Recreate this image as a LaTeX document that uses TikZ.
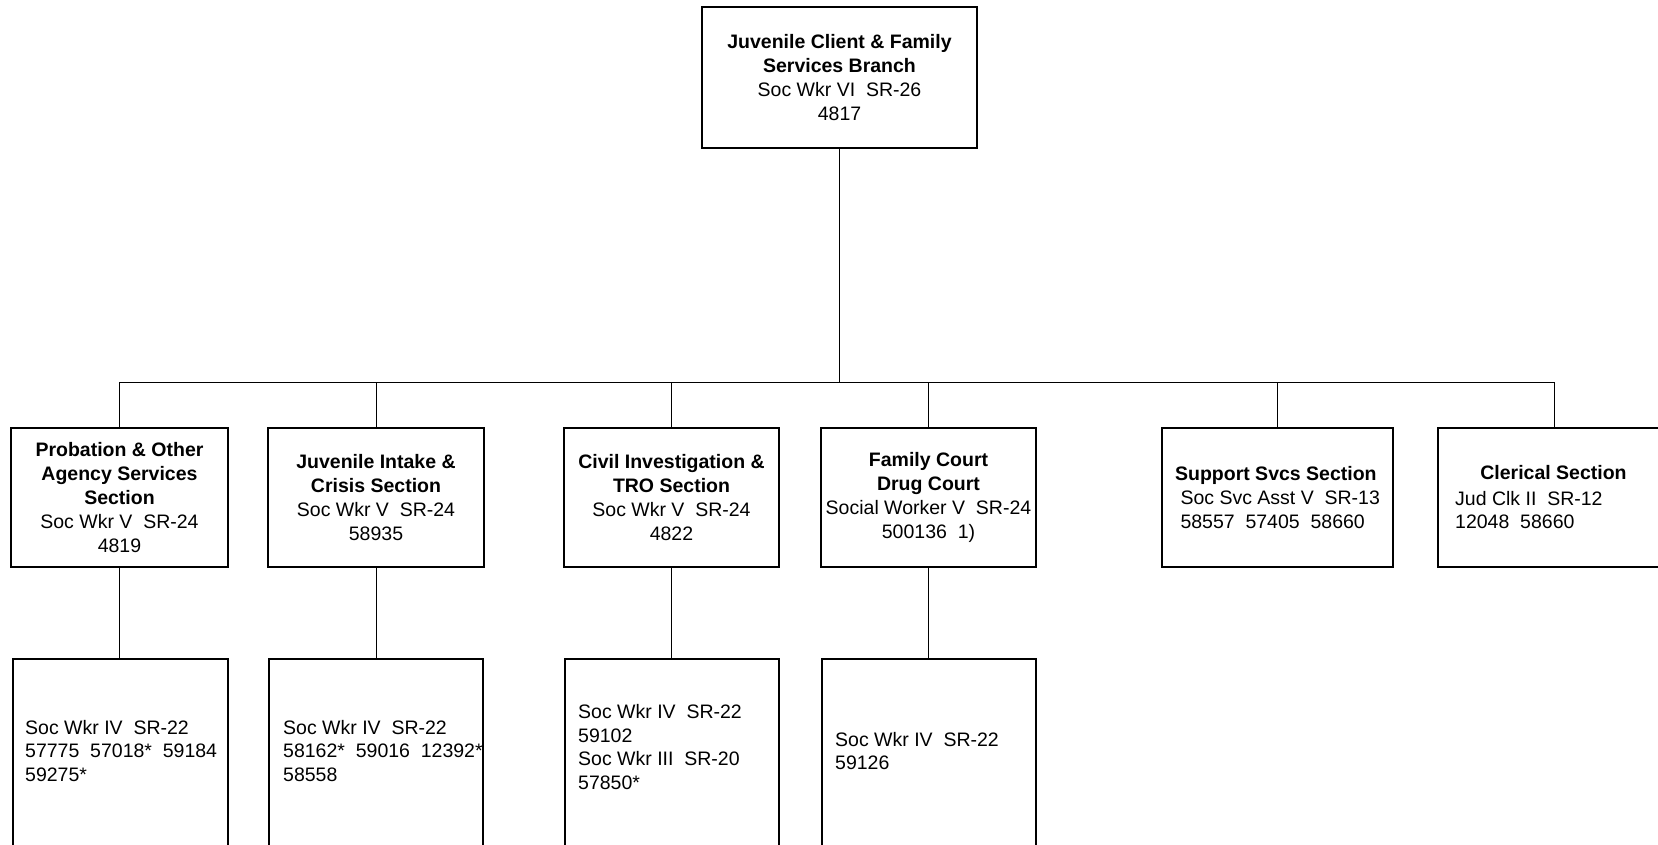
\documentclass[tikz,border=0pt]{standalone}
\usepackage{fontspec}
\setmainfont{Liberation Sans}
\usepackage{tikz}
\usetikzlibrary{positioning}

\begin{document}
\begin{tikzpicture}[x=1pt,y=-1pt,
    unit/.style={draw, line width=1.3pt, align=center, inner sep=2pt,
      font=\fontsize{19.5}{24}\selectfont},
    section/.style={unit, minimum height=139pt},
    staffbox/.style={draw, line width=1.3pt, minimum height=191pt},
    stafftext/.style={anchor=west, align=left, inner sep=0pt,
      font=\fontsize{19.5}{23.5}\selectfont},
    link/.style={line width=1pt}]
  \useasboundingbox (0,0) rectangle (1658,844);

  % branch head
  \node[unit, minimum width=275pt, minimum height=141pt] (branch) at (839.5,77.5)
    {\textbf{Juvenile Client \& Family}\\ \textbf{Services Branch}\\
     Soc Wkr VI\ \ SR-26\\ 4817};

  % sections
  \node[section, minimum width=217pt] (prob) at (119.5,497.5)
    {\textbf{Probation \& Other}\\ \textbf{Agency Services}\\ \textbf{Section}\\
     Soc Wkr V\ \ SR-24\\ 4819};
  \node[section, minimum width=216pt] (intake) at (376,497.5)
    {\textbf{Juvenile Intake \&}\\ \textbf{Crisis Section}\\
     Soc Wkr V\ \ SR-24\\ 58935};
  \node[section, minimum width=215pt] (civil) at (671.5,497.5)
    {\textbf{Civil Investigation \&}\\ \textbf{TRO Section}\\
     Soc Wkr V\ \ SR-24\\ 4822};
  \node[section, minimum width=215pt] (drug) at (928.5,497.5)
    {\textbf{Family Court}\\ \textbf{Drug Court}\\
     Social Worker V\ \ SR-24\\ 500136\ \ 1)};
  \node[section, minimum width=231pt, align=left] (support) at (1277.5,497.5)
    {\textbf{Support Svcs Section}\\ \ Soc Svc Asst V\ \ SR-13\\
     \ 58557\ \ 57405\ \ 58660};
  \node[section, minimum width=232pt] (clerical) at (1554,497.5) {};
  \node[font=\fontsize{19.5}{24}\selectfont\bfseries, inner sep=0pt]
    (clericaltitle) at (1553.5,473) {Clerical Section};
  \node[stafftext] (clericaltext) at (1455,510)
    {Jud Clk II\ \ SR-12\\ 12048\ \ 58660};

  % staff boxes
  \node[staffbox, minimum width=215pt] (probstaff) at (120.5,754.5) {};
  \node[staffbox, minimum width=214pt] (intakestaff) at (376,754.5) {};
  \node[staffbox, minimum width=214pt] (civilstaff) at (672,754.5) {};
  \node[staffbox, minimum width=214pt] (drugstaff) at (929,754.5) {};

  \node[stafftext] (probtext) at (25,751)
    {Soc Wkr IV\ \ SR-22\\ 57775\ \ 57018*\ \ 59184\\ 59275*};
  \node[stafftext] (intaketext) at (283,751)
    {Soc Wkr IV\ \ SR-22\\ 58162*\ \ 59016\ \ 12392*\\ 58558};
  \node[stafftext] (civiltext) at (578,747)
    {Soc Wkr IV\ \ SR-22\\ 59102\\ Soc Wkr III\ \ SR-20\\ 57850*};
  \node[stafftext] (drugtext) at (835,751)
    {Soc Wkr IV\ \ SR-22\\ 59126};

  % connectors
  \coordinate (busL) at (119.5,382);
  \coordinate (busR) at (1554,382);
  \draw[link] (branch.south) -- (branch.south |- busL);
  \draw[link] (busL) -- (busR);
  \foreach \s in {prob,intake,civil,drug,support,clerical}{
    \draw[link] (\s.north) -- (\s.north |- busL);
  }
  \foreach \s in {prob,intake,civil,drug}{
    \draw[link] (\s.south) -- (\s.south |- \s staff.north);
  }

\end{tikzpicture}
\end{document}
